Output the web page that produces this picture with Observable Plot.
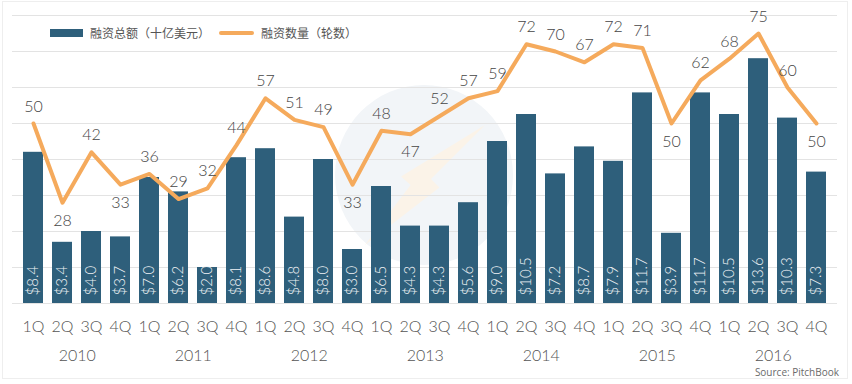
<!DOCTYPE html>
<html>
<head>
<meta charset="utf-8">
<script src="https://cdn.jsdelivr.net/npm/d3@7"></script>
<script src="https://cdn.jsdelivr.net/npm/@observablehq/plot@0.6"></script>
<style>
  html, body { margin: 0; padding: 0; background: #fff; }
  #wrap { position: relative; width: 852px; height: 384px; overflow: hidden; font-family: Lato, "Noto Sans CJK SC", sans-serif; }
  #frame { position: absolute; left: 2px; top: 1px; width: 846px; height: 378px; border: 1px solid #eeeeee; box-sizing: border-box; }
  #mark { position: absolute; left: 335px; top: 85px; width: 178px; height: 180px; border-radius: 50%; background: #f2f5f8; }
  #bolt { position: absolute; left: 365px; top: 125px; width: 120px; height: 120px; background: #fbf3e8;
          clip-path: polygon(100% 0%, 55% 45%, 62% 52%, 0% 100%, 38% 50%, 30% 43%); }
  #chart { position: absolute; left: 0; top: 0; }
  #legend { position: absolute; left: 50px; top: 24px; display: flex; align-items: center; font-family: "Noto Sans CJK SC", sans-serif; font-size: 12px; color: #555; background: #fff; padding: 0 4px 0 0; }
  #legend .sw1 { width: 33px; height: 8px; background: #2e5f7b; margin-right: 7px; }
  #legend .sw2 { width: 35px; height: 4px; border-radius: 2px; background: #f5aa5c; margin: 0 7px 0 9px; }
  #source { position: absolute; right: 13px; top: 365px; font-family: "Open Sans", sans-serif; font-size: 10px; color: #6a6a6a; }
</style>
</head>
<body>
<div id="wrap">
  <div id="frame"></div>
  <div id="mark"></div>
  <div id="bolt"></div>
  <div id="chart"></div>
  <div id="legend"><div class="sw1"></div><span>融资总额（十亿美元）</span><div class="sw2"></div><span>融资数量（轮数）</span></div>
  <div id="source">Source: PitchBook</div>
</div>
<script>
const years = ["2010", "2011", "2012", "2013", "2014", "2015", "2016"];
const quarters = ["1Q", "2Q", "3Q", "4Q"];
const amounts = [8.4, 3.4, 4.0, 3.7, 7.0, 6.2, 2.0, 8.1, 8.6, 4.8, 8.0, 3.0, 6.5, 4.3, 4.3, 5.6, 9.0, 10.5, 7.2, 8.7, 7.9, 11.7, 3.9, 11.7, 10.5, 13.6, 10.3, 7.3];
const rounds = [50, 28, 42, 33, 36, 29, 32, 44, 57, 51, 49, 33, 48, 47, 52, 57, 59, 72, 70, 67, 72, 71, 50, 62, 68, 75, 60, 50];

const data = [];
years.forEach((y, yi) => quarters.forEach((q, qi) => {
  const i = yi * 4 + qi;
  data.push({key: y + " " + q, year: y, q, amount: amounts[i], rounds: rounds[i], i});
}));
const keys = data.map(d => d.key);
// labels placed under the line point (local dips)
const below = new Set(["2010 2Q", "2010 4Q", "2012 4Q", "2013 2Q", "2015 3Q", "2016 4Q"]);

const W = 852, mL = 12, mR = 15, step = (W - mL - mR) / keys.length;

const chart = Plot.plot({
  width: W,
  height: 384,
  marginTop: 15,
  marginBottom: 81,
  marginLeft: mL,
  marginRight: mR,
  style: {background: "transparent", fontFamily: "Lato, sans-serif"},
  x: {type: "band", domain: keys, paddingInner: 0.32, paddingOuter: 0.16, axis: null},
  y: {domain: [0, 16], axis: null},
  marks: [
    Plot.gridY({ticks: d3.range(0, 17, 2), stroke: "#e3e3e3", strokeOpacity: 1, strokeWidth: 1}),
    Plot.barY(data, {x: "key", y: "amount", fill: "#2e5f7b"}),
    Plot.text(data, {x: "key", y: 0, text: d => "$" + d.amount.toFixed(1), rotate: -90, textAnchor: "start", dy: -8, fill: "#eef2f5", fontSize: 15, fontWeight: 300}),
    Plot.line(data, {x: "key", y: d => d.rounds / 5, stroke: "#f5aa5c", strokeWidth: 4, strokeLinejoin: "round"}),
    Plot.text(data.filter(d => !below.has(d.key)), {x: "key", y: d => d.rounds / 5, text: d => String(d.rounds), dy: -17, fill: "#454545", fontSize: 16, fontWeight: 300}),
    Plot.text(data.filter(d => below.has(d.key)), {x: "key", y: d => d.rounds / 5, text: d => String(d.rounds), dy: 18, fill: "#454545", fontSize: 16, fontWeight: 300}),
    Plot.axisX({domain: keys, tickSize: 0, tickPadding: 17, tickFormat: k => k.split(" ")[1], fontSize: 16, fontWeight: 300, fill: "#555", label: null}),
    Plot.text(data.filter(d => d.q === "2Q"), {x: "key", y: 0, text: "year", dx: step / 2, dy: 52, fill: "#555", fontSize: 16, fontWeight: 300})
  ]
});
document.getElementById("chart").appendChild(chart);
</script>
</body>
</html>
